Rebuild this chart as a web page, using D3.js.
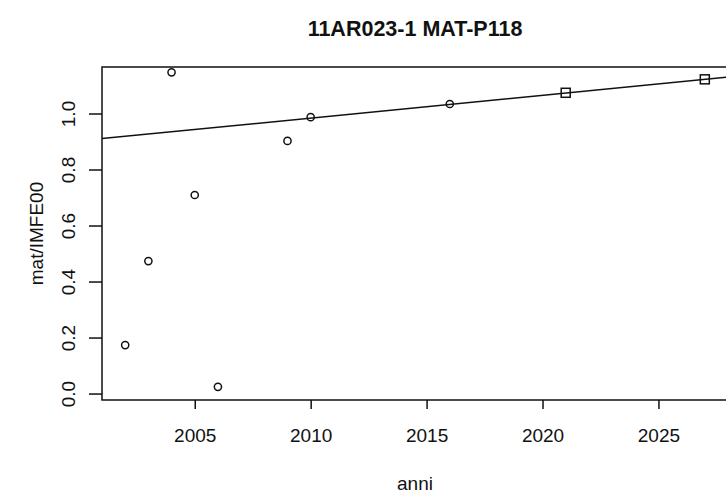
<!DOCTYPE html>
<html>
<head>
<meta charset="utf-8">
<script src="https://cdn.jsdelivr.net/npm/d3@7"></script>
<style>
  html, body { margin: 0; padding: 0; background: #fff; }
  svg { display: block; font-family: "Liberation Sans", Arial, sans-serif; }
</style>
</head>
<body>
<svg id="chart" width="726" height="498"></svg>
<script>
// Observed years and values (circles)
const obsYears = [2002, 2003, 2004, 2005, 2006, 2009, 2010, 2016];
const obsValues = [0.173, 0.473, 1.147, 0.709, 0.024, 0.902, 0.987, 1.034];
// Projected years and values (squares)
const projYears = [2021, 2027];
const projValues = [1.074, 1.122];
// Trend line endpoints
const trendYears = [2001, 2028];
const trendValues = [0.9105, 1.130];
// Axis ticks
const xTicks = [2005, 2010, 2015, 2020, 2025];
const yTicks = [0.0, 0.2, 0.4, 0.6, 0.8, 1.0];
const yTickLabels = ["0.0", "0.2", "0.4", "0.6", "0.8", "1.0"];

(function () {
  const svg = d3.select("#chart");
  const plotLeft = 102, plotRight = 728, plotTop = 67, plotBottom = 400;

  const x = d3.scaleLinear().domain([2001, 2028]).range([plotLeft, plotRight]);
  const y = d3.scaleLinear().domain([-0.02304, 1.16604]).range([plotBottom, plotTop]);

  const ink = "#111";

  // Clip region for the plotting area
  svg.append("clipPath").attr("id", "plotClip")
    .append("rect").attr("x", plotLeft).attr("y", plotTop)
    .attr("width", plotRight - plotLeft).attr("height", plotBottom - plotTop);

  // Trend line
  const line = d3.line().x(d => x(d[0])).y(d => y(d[1]));
  svg.append("path")
    .datum(trendYears.map((t, i) => [t, trendValues[i]]))
    .attr("d", line)
    .attr("clip-path", "url(#plotClip)")
    .attr("fill", "none").attr("stroke", ink).attr("stroke-width", 1.5);

  // Observed points
  svg.append("g").selectAll("circle")
    .data(obsYears.map((t, i) => [t, obsValues[i]]))
    .join("circle")
    .attr("cx", d => x(d[0])).attr("cy", d => y(d[1]))
    .attr("r", 3.6)
    .attr("fill", "none").attr("stroke", ink).attr("stroke-width", 1.5);

  // Projected points
  const sq = 9;
  svg.append("g").selectAll("rect")
    .data(projYears.map((t, i) => [t, projValues[i]]))
    .join("rect")
    .attr("x", d => x(d[0]) - sq / 2).attr("y", d => y(d[1]) - sq / 2)
    .attr("width", sq).attr("height", sq)
    .attr("fill", "none").attr("stroke", ink).attr("stroke-width", 1.5);

  // Plot frame (right edge runs off the canvas)
  svg.append("path")
    .attr("d", `M${plotRight},${plotTop}H${plotLeft}V${plotBottom}H${plotRight}`)
    .attr("fill", "none").attr("stroke", ink).attr("stroke-width", 1.5);

  // Bottom axis
  const xAxis = d3.axisBottom(x).tickValues(xTicks).tickSize(9).tickFormat(d3.format("d"));
  const gx = svg.append("g").attr("transform", `translate(0,${plotBottom})`).call(xAxis);
  gx.select(".domain").remove();
  gx.selectAll("line").attr("stroke", ink).attr("stroke-width", 1.5);
  gx.selectAll("text").attr("fill", ink).attr("font-size", 19).attr("dy", null)
    .attr("y", 42);

  // Left axis
  const yAxis = d3.axisLeft(y).tickValues(yTicks).tickSize(13)
    .tickFormat((d, i) => yTickLabels[i]);
  const gy = svg.append("g").attr("transform", `translate(${plotLeft},0)`).call(yAxis);
  gy.select(".domain").remove();
  gy.selectAll("line").attr("stroke", ink).attr("stroke-width", 1.5);
  gy.selectAll("text")
    .attr("fill", ink).attr("font-size", 19)
    .attr("x", null).attr("dy", null)
    .attr("text-anchor", "middle")
    .attr("transform", "translate(-27,0) rotate(-90)");

  // Axis titles
  svg.append("text").attr("x", x(2014.5)).attr("y", 490)
    .attr("text-anchor", "middle").attr("font-size", 19).attr("fill", ink).text("anni");
  svg.append("text")
    .attr("transform", `translate(43,${(plotTop + plotBottom) / 2}) rotate(-90)`)
    .attr("text-anchor", "middle").attr("font-size", 19).attr("fill", ink).text("mat/IMFE00");

  // Title
  svg.append("text").attr("x", 415).attr("y", 36)
    .attr("text-anchor", "middle").attr("font-size", 21.5).attr("font-weight", "bold")
    .attr("fill", ink).text("11AR023-1 MAT-P118");
})();
</script>
</body>
</html>
